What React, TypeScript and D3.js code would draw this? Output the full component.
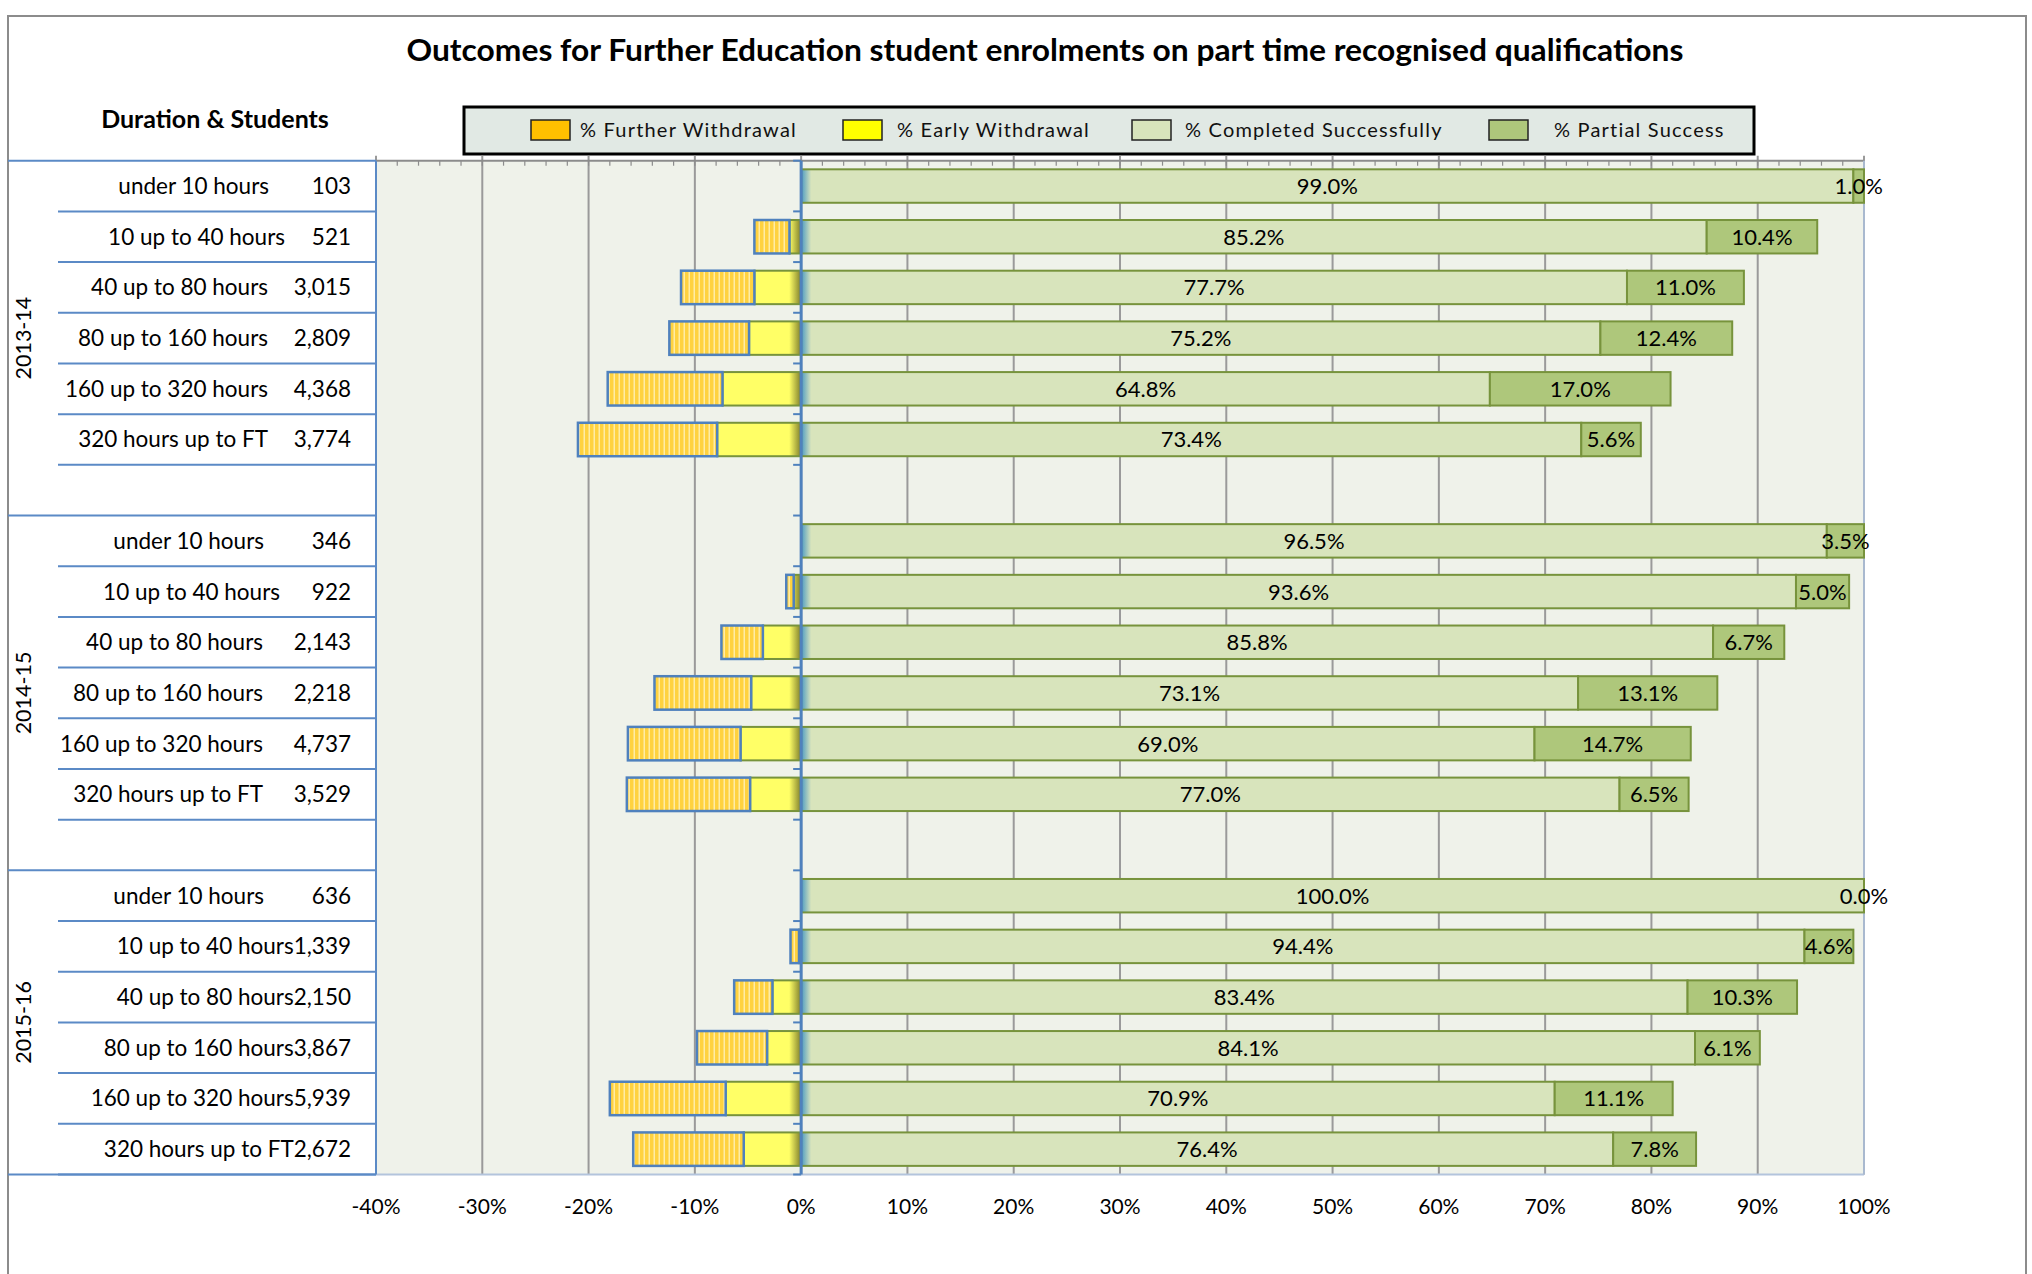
import React from "react";
import * as d3 from "d3";

const years = ["2013-14", "2014-15", "2015-16"];
const durations = [
  "under 10 hours",
  "10 up to 40 hours",
  "40 up to 80 hours",
  "80 up to 160 hours",
  "160 up to 320 hours",
  "320 hours up to FT",
];
const students = [
  [103, 521, 3015, 2809, 4368, 3774],
  [346, 922, 2143, 2218, 4737, 3529],
  [636, 1339, 2150, 3867, 5939, 2672],
];
const completed = [
  [99.0, 85.2, 77.7, 75.2, 64.8, 73.4],
  [96.5, 93.6, 85.8, 73.1, 69.0, 77.0],
  [100.0, 94.4, 83.4, 84.1, 70.9, 76.4],
];
const partial = [
  [1.0, 10.4, 11.0, 12.4, 17.0, 5.6],
  [3.5, 5.0, 6.7, 13.1, 14.7, 6.5],
  [0.0, 4.6, 10.3, 6.1, 11.1, 7.8],
];
const earlyWithdrawal = [
  [0, 1.1, 4.4, 4.9, 7.4, 7.9],
  [0, 0.7, 3.6, 4.7, 5.7, 4.8],
  [0, 0.2, 2.7, 3.2, 7.1, 5.4],
];
const furtherWithdrawal = [
  [0, 3.3, 6.9, 7.5, 10.8, 13.1],
  [0, 0.7, 3.9, 9.1, 10.6, 11.6],
  [0, 0.8, 3.6, 6.6, 10.9, 10.4],
];
const xTicks = [-40, -30, -20, -10, 0, 10, 20, 30, 40, 50, 60, 70, 80, 90, 100];
const legendItems = [
  "% Further Withdrawal",
  "% Early Withdrawal",
  "% Completed Successfully",
  "% Partial Success",
];
const titleText =
  "Outcomes for Further Education student enrolments on part time recognised qualifications";

const W = 2032;
const H = 1274;
const FONT = "Lato, 'Open Sans', sans-serif";

const C = {
  further: "#ffc000",
  early: "#ffff66",
  completed: "#d8e4bc",
  partial: "#aec77b",
  olive: "#77933c",
  blue: "#4f81bd",
  grid: "#9a9a9a",
  plotBg: "#eff2ea",
};

export default function App() {
  const plotL = 376;
  const plotR = 1864;
  const plotT = 160.7;
  const plotB = 1174.5;
  const nSlots = 20;
  const x = d3.scaleLinear().domain([-40, 100]).range([plotL, plotR]);
  const y = d3
    .scaleBand<number>()
    .domain(d3.range(nSlots))
    .range([plotT, plotB])
    .paddingInner(0.34)
    .paddingOuter(0.17);
  const step = y.step();
  const x0 = x(0);

  const rows: any[] = [];
  years.forEach((yr, gi) => {
    durations.forEach((d, ri) => {
      rows.push({
        gi,
        ri,
        slot: gi * 7 + ri,
        name: d,
        n: students[gi][ri],
        c: completed[gi][ri],
        p: partial[gi][ri],
        e: earlyWithdrawal[gi][ri],
        f: furtherWithdrawal[gi][ri],
      });
    });
  });

  const fmtN = d3.format(",");
  const groupStart = [0, 7, 14];
  const groupEnd = [7, 14, 20];
  const slotY = (s: number) => plotT + s * step;

  const minor = d3.range(-40, 100.001, 2);

  const legendSw = [531, 843, 1132, 1489];
  const legendTx = [580, 897, 1185, 1554];
  const legendFill = [C.further, "#ffff00", C.completed, C.partial];
  const LBL = 22.5;

  return (
    <svg
      width={W}
      height={H}
      style={{ position: "absolute", left: 0, top: 0, background: "#fff" }}
      fontFamily={FONT}
    >
      <defs>
        <pattern id="stripes" patternUnits="userSpaceOnUse" width="5" height="10">
          <rect width="5" height="10" fill="#ffd23f" />
          <rect x="3.6" width="1.2" height="10" fill="#fff3bf" />
        </pattern>
        <linearGradient id="gCompleted" gradientUnits="userSpaceOnUse" x1={x0} x2={x0 + 10} y1="0" y2="0">
          <stop offset="0" stopColor="#4a9ac4" />
          <stop offset="1" stopColor={C.completed} />
        </linearGradient>
        <linearGradient id="gEarly" gradientUnits="userSpaceOnUse" x1={x0 - 12} x2={x0} y1="0" y2="0">
          <stop offset="0" stopColor={C.early} />
          <stop offset="1" stopColor="#7d7d2a" />
        </linearGradient>
      </defs>

      <path d={`M8,${H} L8,16 L2026,16 L2026,${H}`} fill="none" stroke="#8c8c8c" strokeWidth={2} />

      <text x={1045} y={61} textAnchor="middle" fontWeight={700} fontSize={31} textLength={1277} lengthAdjust="spacingAndGlyphs">
        {titleText}
      </text>
      <text x={215} y={128} textAnchor="middle" fontWeight={700} fontSize={25}>
        Duration &amp; Students
      </text>

      <rect x={464} y={107} width={1290} height={47} fill="#e1e9e4" stroke="#000" strokeWidth={3} />
      {legendItems.map((t, i) => (
        <g key={t}>
          <rect x={legendSw[i]} y={120} width={39} height={20} fill={legendFill[i]} stroke="#222" strokeWidth={1.5} />
          <text x={legendTx[i]} y={137} fontSize={20} letterSpacing={1.2} fill="#111">
            {t}
          </text>
        </g>
      ))}

      <rect x={plotL} y={plotT} width={plotR - plotL} height={plotB - plotT} fill={C.plotBg} />

      {xTicks.map((t) => (
        <line key={"g" + t} x1={x(t)} x2={x(t)} y1={plotT - 5} y2={plotB} stroke={C.grid} strokeWidth={2} />
      ))}
      <line x1={plotL} x2={plotR} y1={plotT} y2={plotT} stroke="#8c8c8c" strokeWidth={2} />
      {minor.map((t) => (
        <line key={"m" + t} x1={x(t)} x2={x(t)} y1={plotT} y2={plotT + 5} stroke="#8c8c8c" strokeWidth={1.2} />
      ))}

      {rows.map((r) => (
        <line
          key={"rl" + r.slot}
          x1={58}
          x2={plotL}
          y1={slotY(r.slot + 1)}
          y2={slotY(r.slot + 1)}
          stroke="#5b8ac6"
          strokeWidth={2}
        />
      ))}
      {[0, 7, 14, 20].map((s) => (
        <line key={"gl" + s} x1={8} x2={plotL} y1={slotY(s)} y2={slotY(s)} stroke="#5b8ac6" strokeWidth={2} />
      ))}
      <line x1={plotL} x2={plotR} y1={plotB} y2={plotB} stroke="#b3c4dc" strokeWidth={2} />
      <line x1={plotL} x2={plotL} y1={plotT} y2={plotB} stroke="#5b8ac6" strokeWidth={2} />
      <line x1={plotR} x2={plotR} y1={plotT} y2={plotB} stroke="#a9b9cf" strokeWidth={2} />

      {years.map((yr, gi) => {
        const cy = (slotY(groupStart[gi]) + slotY(groupEnd[gi])) / 2;
        return (
          <text key={yr} transform={`translate(31,${cy}) rotate(-90)`} textAnchor="middle" fontSize={21.5}>
            {yr}
          </text>
        );
      })}

      {rows.map((r) => {
        const cy = (y(r.slot) as number) + y.bandwidth() / 2;
        const joined = r.gi === 2 && r.n >= 1000;
        if (joined) {
          return (
            <text key={"lab" + r.slot} x={351} y={cy + 8} textAnchor="end" fontSize={LBL}>
              {r.name + fmtN(r.n)}
            </text>
          );
        }
        const nameEnd = r.gi === 0 ? 268 : 263;
        const extra = r.ri === 1 ? 17 : r.ri === 0 ? 1 : 0;
        return (
          <g key={"lab" + r.slot}>
            <text x={nameEnd + extra} y={cy + 8} textAnchor="end" fontSize={LBL}>
              {r.name}
            </text>
            <text x={351} y={cy + 8} textAnchor="end" fontSize={LBL}>
              {fmtN(r.n)}
            </text>
          </g>
        );
      })}

      {rows.map((r) => {
        const by = y(r.slot) as number;
        const bh = y.bandwidth();
        return (
          <g key={"bar" + r.slot}>
            {r.e > 0 && (
              <rect x={x(-r.e)} y={by} width={x0 - x(-r.e)} height={bh} fill="url(#gEarly)" stroke={C.olive} strokeWidth={2} />
            )}
            {r.f > 0 && (
              <rect
                x={x(-r.e - r.f)}
                y={by}
                width={x(-r.e) - x(-r.e - r.f)}
                height={bh}
                fill="url(#stripes)"
                stroke={C.blue}
                strokeWidth={2.5}
              />
            )}
            <rect x={x0} y={by} width={x(r.c) - x0} height={bh} fill="url(#gCompleted)" stroke={C.olive} strokeWidth={2} />
            {r.p > 0 && (
              <rect x={x(r.c)} y={by} width={x(r.c + r.p) - x(r.c)} height={bh} fill={C.partial} stroke={C.olive} strokeWidth={2} />
            )}
          </g>
        );
      })}

      <line x1={x0} x2={x0} y1={plotT} y2={plotB} stroke={C.blue} strokeWidth={3} />
      {d3.range(nSlots + 1).map((s) => (
        <line key={"zt" + s} x1={x0 - 8} x2={x0} y1={slotY(s)} y2={slotY(s)} stroke={C.blue} strokeWidth={2} />
      ))}

      {rows.map((r) => {
        const cy = (y(r.slot) as number) + y.bandwidth() / 2 + 8;
        return (
          <g key={"dl" + r.slot} fontSize={22} textAnchor="middle" fill="#000">
            <text x={x(r.c / 2)} y={cy}>
              {r.c.toFixed(1) + "%"}
            </text>
            <text x={x(r.c + r.p / 2)} y={cy}>
              {r.p.toFixed(1) + "%"}
            </text>
          </g>
        );
      })}

      {xTicks.map((t) => (
        <text key={"xt" + t} x={x(t)} y={1214} textAnchor="middle" fontSize={21}>
          {`${t}%`}
        </text>
      ))}
    </svg>
  );
}
